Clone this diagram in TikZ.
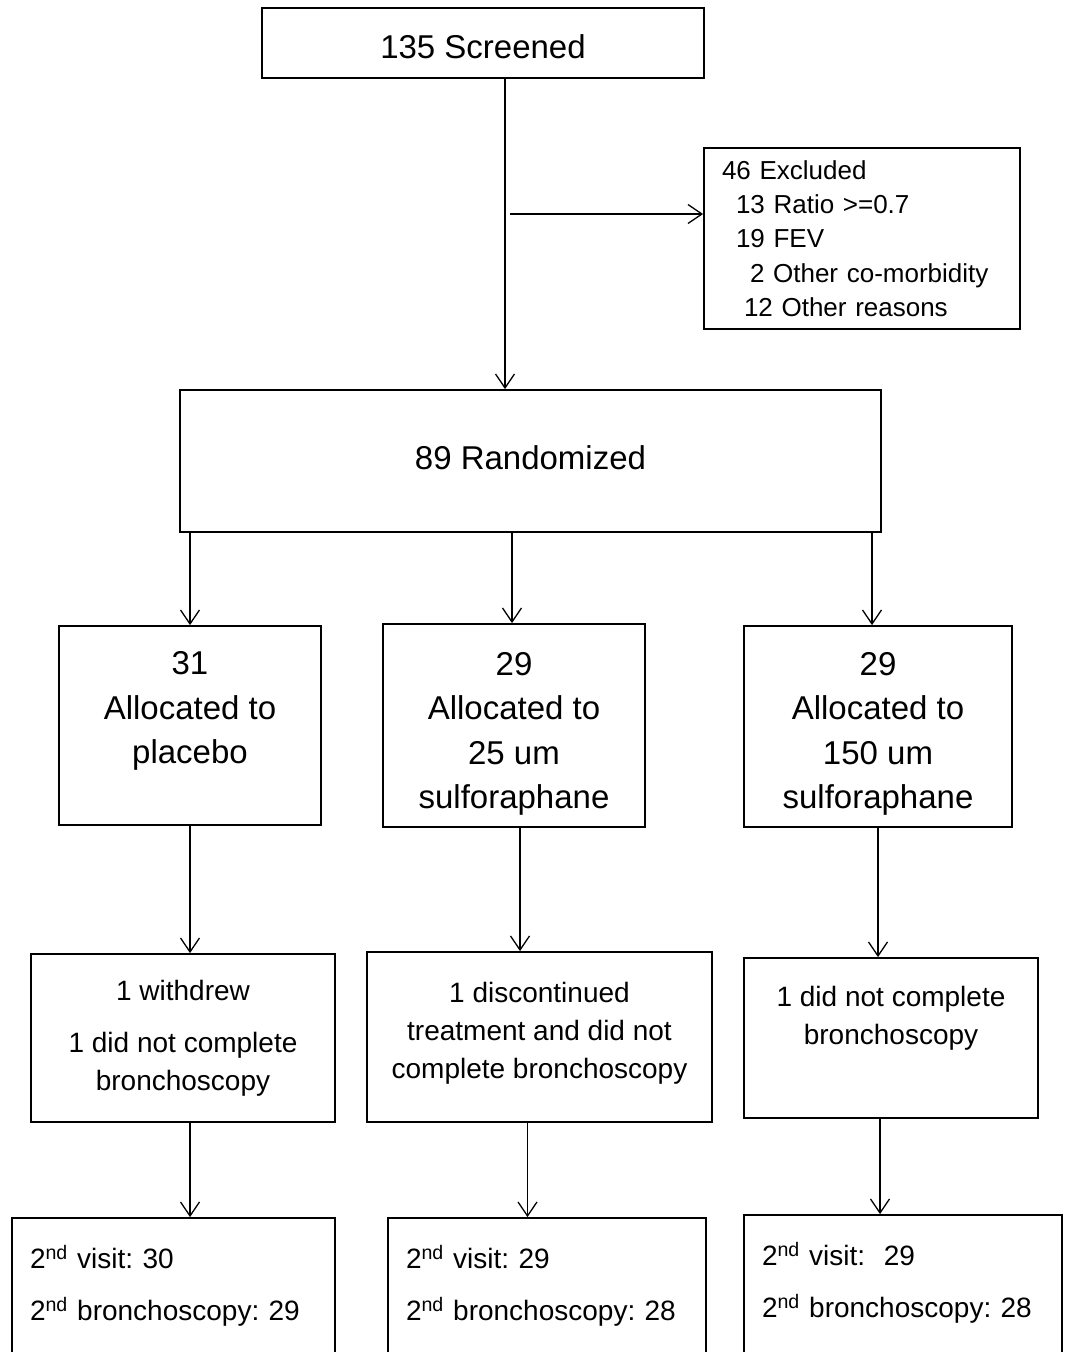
\documentclass[tikz,border=0pt]{standalone}
\usepackage{fontspec}
\setmainfont{Liberation Sans}
\frenchspacing
\usetikzlibrary{arrows.meta}

\tikzset{
  box/.style={draw,line width=1.8pt,inner sep=0pt,align=center},
  big/.style={box,font=\fontsize{33}{44.5}\selectfont},
  mid/.style={box,font=\fontsize{28}{38}\selectfont},
  visit/.style={box,align=left,inner xsep=18pt,minimum height=182pt,font=\fontsize{28}{52}\selectfont},
}

\begin{document}
\begin{tikzpicture}[x=1pt,y=1pt,->,>={Straight Barb[length=14pt,width=19pt]},line width=1.3pt]

    \useasboundingbox (0,0) rectangle (1068,-1352);
    \clip (0,0) rectangle (1068,-1352);

    \node[big,minimum width=442pt,minimum height=70pt,text height=32pt] (scr) at (483,-43) {135 Screened};
    \node[box,align=left,inner xsep=18pt,text width=280pt,minimum height=181pt,font=\fontsize{26}{34.3}\selectfont]
        (excl) [right of=scr,node distance=379pt,yshift=-195.5pt]
        {46 Excluded\\
         \hspace*{14pt}13 Ratio >=0.7\\
         \hspace*{14pt}19 FEV\\
         \hspace*{28pt}2 Other co-morbidity\\
         \hspace*{22pt}12 Other reasons};
    \node[big,minimum width=701pt,minimum height=142pt,text depth=6pt] (rand) [below of=scr,node distance=418pt,xshift=47.5pt] {89 Randomized};

    % allocation
    \node[big,minimum width=262pt,minimum height=199pt] (plac) [below of=rand,node distance=264.5pt,xshift=-340.5pt] {\rule{0pt}{32pt}31\\Allocated to\\placebo\\\mbox{}};
    \node[big,minimum width=262pt,minimum height=203pt] (low) [right of=plac,node distance=324pt] {\rule{0pt}{40pt}29\\Allocated to\\25 um\\sulforaphane};
    \node[big,minimum width=268pt,minimum height=201pt] (high) [right of=low,node distance=364pt,yshift=-1pt] {\rule{0pt}{38pt}29\\Allocated to\\150 um\\sulforaphane};

    % losses
    \node[mid,minimum width=304pt,minimum height=168pt] (placl) [below of=plac,node distance=312.5pt,xshift=-7pt] {1 withdrew\\[14pt]1 did not complete\\bronchoscopy};
    \node[mid,minimum width=345pt,minimum height=170pt] (lowl) [below of=low,node distance=311.5pt,xshift=25.5pt] {1 discontinued\\treatment and did not\\complete bronchoscopy\rule[-14pt]{0pt}{14pt}};
    \node[mid,minimum width=294pt,minimum height=160pt] (highl) [below of=high,node distance=311.5pt,xshift=13pt] {1 did not complete\\bronchoscopy\\\rule[-8pt]{0pt}{8pt}};

    % second visit
    \node[visit,text width=287pt] (placv) [below of=placl,node distance=271pt,xshift=-9.5pt] {2\textsuperscript{nd} visit: 30\\2\textsuperscript{nd} bronchoscopy: 29\\\mbox{}};
    \node[visit,text width=282pt] (lowv) [below of=lowl,node distance=272pt,xshift=7.5pt] {2\textsuperscript{nd} visit: 29\\2\textsuperscript{nd} bronchoscopy: 28\\\mbox{}};
    \node[visit,text width=282pt] (highv) [below of=highl,node distance=268pt,xshift=12pt] {2\textsuperscript{nd} visit: \ 29\\2\textsuperscript{nd} bronchoscopy: 28\\\mbox{}};

    \coordinate (jn) at (505,-214);

    \path ([xshift=22pt]scr.south) edge ([xshift=22pt]scr.south |- rand.north)
          ([xshift=5pt]jn) edge (jn -| excl.west)
          (rand.south -| plac.north) edge (plac.north)
          ([xshift=-2pt]rand.south -| low.north) edge ([xshift=-2pt]low.north)
          ([xshift=-6pt]rand.south -| high.north) edge ([xshift=-6pt]high.north)
          (plac.south) edge (plac.south |- placl.north)
          ([xshift=6pt]low.south) edge ([xshift=6pt]low.south |- lowl.north)
          (high.south) edge (high.south |- highl.north)
          ([xshift=7pt]placl.south) edge ([xshift=7pt]placl.south |- placv.north)
          ([xshift=-12pt]lowl.south) edge ([xshift=-12pt]lowl.south |- lowv.north)
          ([xshift=-11pt]highl.south) edge ([xshift=-11pt]highl.south |- highv.north);

\end{tikzpicture}
\end{document}
